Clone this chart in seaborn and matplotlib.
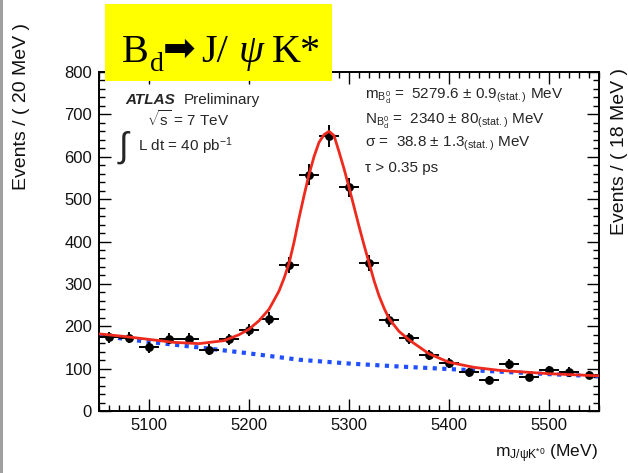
import numpy as np
import pandas as pd
import matplotlib
matplotlib.use("Agg")
import matplotlib.pyplot as plt
import matplotlib.patches as mpatches
from matplotlib.ticker import MultipleLocator
import seaborn as sns

# ---------------- data ----------------
bin_centers = [5060, 5080, 5100, 5120, 5140, 5160, 5180, 5200, 5220, 5240,
               5260, 5280, 5300, 5320, 5340, 5360, 5380, 5400, 5420, 5440,
               5460, 5480, 5500, 5520, 5540]
events = [174, 173, 150, 170, 170, 145, 169, 192, 218, 345,
          558, 649, 528, 350, 214, 172, 133, 113, 91, 73,
          111, 80, 97, 93, 85]
event_errors = [13, 13, 12, 13, 13, 12, 13, 14, 15, 19,
                24, 25, 23, 19, 15, 13, 12, 11, 10, 9,
                11, 9, 10, 10, 9]
bin_half_width = 10

fit_x = [5050, 5075, 5100, 5125, 5150, 5175, 5190, 5200, 5210, 5220,
         5230, 5235, 5240, 5245, 5250, 5255, 5260, 5265, 5270, 5275,
         5280, 5285, 5290, 5295, 5300, 5305, 5310, 5315, 5320, 5325,
         5330, 5335, 5340, 5350, 5360, 5380, 5400, 5425, 5450, 5500, 5550]
fit_total = [182, 176, 169, 162, 159, 166, 180, 193, 213, 240,
             283, 313, 348, 398, 455, 508, 558, 600, 634, 652,
             660, 650, 612, 572, 528, 482, 436, 392, 350, 308,
             272, 243, 218, 188, 168, 135, 115, 103, 96, 88, 83]
bkg_x = [5050, 5100, 5150, 5200, 5250, 5300, 5350, 5400, 5450, 5500, 5550]
bkg_values = [178, 163, 150, 136, 121, 112, 105, 99, 93, 87, 82]

x_ticks = [5100, 5200, 5300, 5400, 5500]
y_ticks = [0, 100, 200, 300, 400, 500, 600, 700, 800]

# ---------------- style ----------------
sns.set_style("ticks")
plt.rcParams['font.family'] = ['Liberation Sans', 'DejaVu Sans']
plt.rcParams['mathtext.fontset'] = 'custom'
plt.rcParams['mathtext.rm'] = 'Liberation Sans'
plt.rcParams['mathtext.it'] = 'Liberation Sans:italic'
plt.rcParams['mathtext.bf'] = 'Liberation Sans:bold'
plt.rcParams['mathtext.sf'] = 'Liberation Sans'

W, H = 628, 473
fig = plt.figure(figsize=(W / 100, H / 100), dpi=100)
fig.patch.set_facecolor('white')
ax = fig.add_axes([99 / W, 1 - 411 / H, 500 / W, 339 / H])

df_fit = pd.DataFrame({"m": fit_x, "n": fit_total})
df_bkg = pd.DataFrame({"m": bkg_x, "n": bkg_values})

sns.lineplot(data=df_bkg, x="m", y="n", ax=ax, color="#1f4fff", lw=3.0,
             linestyle=(0, (1, 1.3)), sort=False, zorder=2)
ax.errorbar(bin_centers, events, yerr=event_errors, xerr=bin_half_width,
            fmt='none', ecolor='black', elinewidth=1.4, capsize=0, zorder=3)
sns.scatterplot(x=bin_centers, y=events, ax=ax, color='black', s=40,
                edgecolor='black', linewidth=0, zorder=4)
sns.lineplot(data=df_fit, x="m", y="n", ax=ax, color="#ee2a1e", lw=2.0,
             sort=False, zorder=5)

ax.set_xlim(5050, 5550)
ax.set_ylim(0, 800)
ax.set_xticks(x_ticks)
ax.set_yticks(y_ticks)
ax.xaxis.set_minor_locator(MultipleLocator(10))
ax.yaxis.set_minor_locator(MultipleLocator(20))
ax.tick_params(which='both', direction='in', top=True, right=True,
               width=1.0, color='black', labelsize=12, labelcolor='#111111')
ax.tick_params(which='major', length=8.5, pad=5)
ax.tick_params(which='minor', length=4.3)
ax.set_xlabel("")
ax.set_ylabel("")
for sp in ax.spines.values():
    sp.set_linewidth(1.4)
    sp.set_color('black')

# axis titles
fig.text(22 / W, 1 - 107 / H, "Events / ( 20 MeV )", rotation=90,
         ha='center', va='center', fontsize=14, color='#111111')
fig.text(619 / W, 1 - 151 / H, "Events / ( 18 MeV )", rotation=90,
         ha='center', va='center', fontsize=14, color='#111111')
fig.text(598 / W, 1 - 457 / H, r"m$_{\mathrm{J/\psi K^{*0}}}$ (MeV)",
         ha='right', va='baseline', fontsize=12.5, color='#111111')

# ATLAS annotations
fig.text(125 / W, 1 - 104 / H, "ATLAS", fontsize=11, fontweight='bold',
         style='italic', va='baseline')
fig.text(184 / W, 1 - 104 / H, "Preliminary", fontsize=11, va='baseline')
fig.text(147 / W, 1 - 126 / H, r"$\sqrt{\mathrm{s}}$ = 7 TeV", fontsize=11,
         va='baseline')
fig.text(117 / W, 1 - 157 / H, r"$\int$", fontsize=25, va='baseline')
fig.text(138 / W, 1 - 151 / H, r"L dt = 40 pb$^{\mathrm{-1}}$", fontsize=11,
         va='baseline')

fig.text(365 / W, 1 - 99 / H,
         r"m$_{\mathrm{B_d^0}}$ =  5279.6 ± 0.9$_{\mathrm{(stat.)}}$ MeV",
         fontsize=11, va='baseline')
fig.text(365 / W, 1 - 124 / H,
         r"N$_{\mathrm{B_d^0}}$ =  2340 ± 80$_{\mathrm{(stat.)}}$ MeV",
         fontsize=11, va='baseline')
fig.text(365 / W, 1 - 147 / H,
         r"σ =  38.8 ± 1.3$_{\mathrm{(stat.)}}$ MeV",
         fontsize=11, va='baseline')
fig.text(365 / W, 1 - 172 / H, "τ > 0.35 ps", fontsize=11, va='baseline')

# yellow title box
box = mpatches.Rectangle((105, H - 81), 227, 77, transform=None,
                         facecolor='#ffff00', edgecolor='none', zorder=10)
fig.add_artist(box)
serif = ['Liberation Serif', 'DejaVu Serif']
base = H - 62
pieces = [
    (122, base, "B", 29, serif, 'normal', 'normal'),
    (150, base - 9, "d", 20, serif, 'normal', 'normal'),
    (163, base + 1, "➡", 28, ['DejaVu Sans'], 'normal', 'normal'),
    (201, base, "J/", 29, serif, 'normal', 'normal'),
    (239, base, "ψ", 29, serif, 'italic', 'normal'),
    (272, base, "K*", 29, serif, 'normal', 'normal'),
]
for px, py, s, fs, fam, sty, wt in pieces:
    fig.text(px / W, py / H, s, fontsize=fs, family=fam, style=sty,
             fontweight=wt, va='baseline', ha='left', color='black',
             zorder=11)

# slide edge on the left
fig.add_artist(mpatches.Rectangle((0, 0), 3, H, transform=None,
                                  facecolor='#a0a0a0', edgecolor='none',
                                  zorder=10))

fig.savefig("out.png", dpi=100)
